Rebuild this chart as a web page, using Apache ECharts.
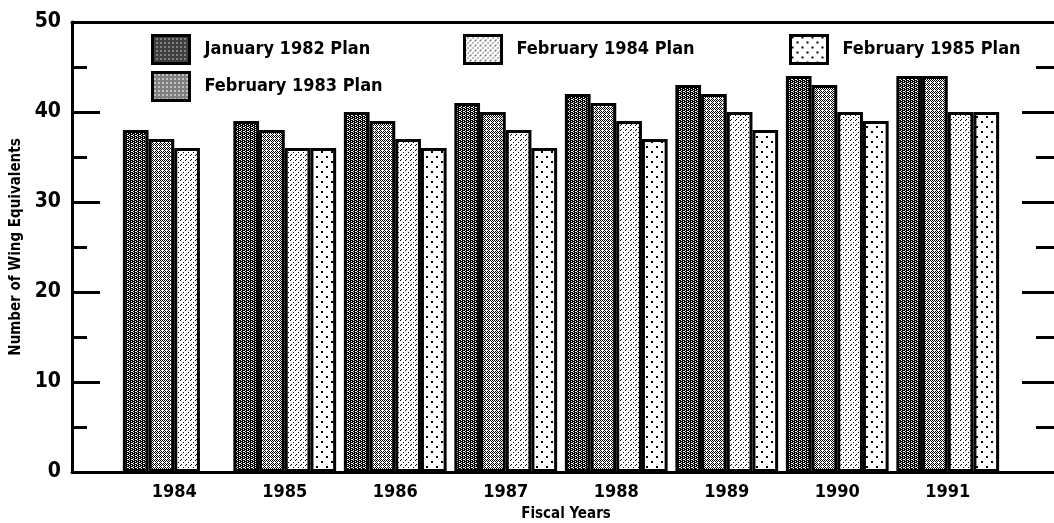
<!DOCTYPE html>
<html>
<head>
<meta charset="utf-8">
<script src="https://cdn.jsdelivr.net/npm/echarts@6/dist/echarts.min.js"></script>
<style>
html,body{margin:0;padding:0;background:#fff;}
#chart{width:1054px;height:523px;}
</style>
</head>
<body>
<div id="chart"></div>
<script>
// ---- Data ----
var categories = ['1984', '1985', '1986', '1987', '1988', '1989', '1990', '1991'];
var seriesNames = ['January 1982 Plan', 'February 1983 Plan', 'February 1984 Plan', 'February 1985 Plan'];
var jan1982 = [38, 39, 40, 41, 42, 43, 44, 44];
var feb1983 = [37, 38, 39, 40, 41, 42, 43, 44];
var feb1984 = [36, 36, 37, 38, 39, 40, 40, 40];
var feb1985 = [null, 36, 36, 36, 37, 38, 39, 40];
var yTicks = [0, 10, 20, 30, 40, 50];

// ---- Patterns (style only) ----
function tile(size, bg, px) {
  var c = document.createElement('canvas');
  c.width = size; c.height = size;
  var ctx = c.getContext('2d');
  ctx.fillStyle = bg; ctx.fillRect(0, 0, size, size);
  ctx.fillStyle = bg === '#fff' ? '#000' : '#fff';
  px.forEach(function (d) { ctx.fillRect(d[0], d[1], d[2] || 1, d[3] || 1); });
  return { image: c, repeat: 'repeat' };
}
var pDark = tile(4, '#000', [[1, 0], [3, 1], [1, 2], [3, 3], [0, 3]]);
var pMed = tile(4, '#fff', [[0, 0], [2, 0], [1, 1], [3, 1], [0, 2], [1, 3], [3, 3]]);
var pLight = tile(5, '#fff', [[0, 0], [3, 2], [1, 4]]);
var pSparse = tile(10, '#fff', [[1, 1, 2, 2], [6, 6, 2, 2]]);
var patterns = [pDark, pMed, pLight, pSparse];
var dataSets = [jan1982, feb1983, feb1984, feb1985];

var FONT = "'Liberation Sans Narrow', 'DejaVu Sans Condensed', 'Arial Narrow', sans-serif";

var chart = echarts.init(document.getElementById('chart'), null, { renderer: 'canvas' });

var series = seriesNames.map(function (name, i) {
  return {
    name: name,
    type: 'bar',
    xAxisIndex: 2,
    yAxisIndex: 4,
    data: dataSets[i],
    barGap: '0%',
    barCategoryGap: '7%',
    itemStyle: { color: patterns[i], borderColor: '#000', borderWidth: 3 },
    emphasis: { disabled: true },
    animation: false
  };
});

function legend(name, left, top) {
  return {
    data: [name], left: left, top: top, padding: 0,
    itemWidth: 37, itemHeight: 28, icon: 'rect', selectedMode: false,
    itemStyle: { borderColor: '#000', borderWidth: 3 },
    textStyle: { fontFamily: FONT, fontWeight: 'bold', fontSize: 18, color: '#000', padding: [0, 0, 0, 10] }
  };
}

function frameX(pos) {
  return { type: 'value', gridIndex: 0, position: pos, min: 0, max: 1,
    axisLine: { show: true, onZero: false, lineStyle: { color: '#000', width: 3 } },
    axisTick: { show: false }, axisLabel: { show: false }, splitLine: { show: false } };
}
function tickY(pos, interval, len, labels) {
  return { type: 'value', gridIndex: 0, position: pos, min: 0, max: 50, interval: interval,
    axisLine: { show: labels, onZero: false, lineStyle: { color: '#000', width: 3 } },
    axisTick: { show: true, inside: true, length: len, lineStyle: { color: '#000', width: 3 } },
    axisLabel: labels ? { color: '#000', fontFamily: FONT, fontWeight: 'bold', fontSize: 21, margin: 11 } : { show: false },
    splitLine: { show: false } };
}

var yMain = tickY('left', 10, 28, true);
yMain.name = 'Number of Wing Equivalents';
yMain.nameLocation = 'middle';
yMain.nameGap = 45;
yMain.nameTextStyle = { color: '#000', fontFamily: FONT, fontWeight: 'bold', fontSize: 15 };

var option = {
  backgroundColor: '#fff',
  animation: false,
  textStyle: { fontFamily: FONT },
  legend: [
    legend(seriesNames[0], 151, 34),
    legend(seriesNames[1], 151, 71),
    legend(seriesNames[2], 463, 34),
    legend(seriesNames[3], 789, 34)
  ],
  grid: [
    { left: 72, right: -2, top: 22, bottom: 51, outerBoundsMode: 'none', containLabel: false },
    { left: 119, right: 51, top: 22, bottom: 51, outerBoundsMode: 'none', containLabel: false }
  ],
  xAxis: [
    frameX('bottom'),
    frameX('top'),
    { type: 'category', gridIndex: 1, data: categories,
      axisLine: { show: false }, axisTick: { show: false },
      axisLabel: { color: '#000', fontFamily: FONT, fontWeight: 'bold', fontSize: 18, margin: 11 },
      name: 'Fiscal Years', nameLocation: 'middle', nameGap: 35,
      nameTextStyle: { color: '#000', fontFamily: FONT, fontWeight: 'bold', fontSize: 15, padding: [0, 0, 0, 10] } }
  ],
  yAxis: [
    yMain,
    tickY('left', 5, 15, false),
    tickY('right', 10, 34, false),
    tickY('right', 5, 20, false),
    { type: 'value', gridIndex: 1, min: 0, max: 50, interval: 10, show: false }
  ],
  series: series
};
chart.setOption(option);
</script>
</body>
</html>
